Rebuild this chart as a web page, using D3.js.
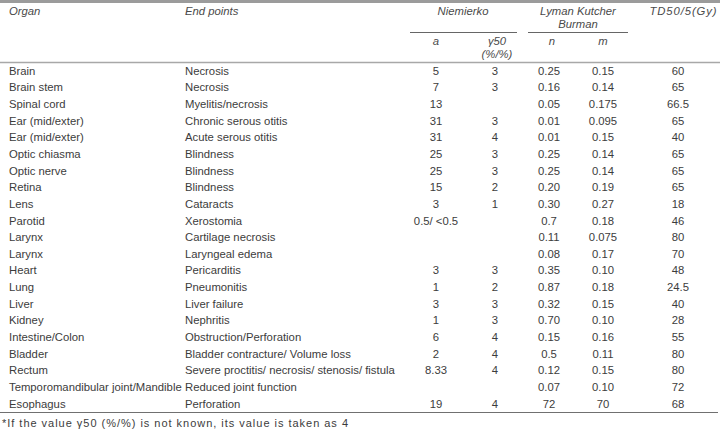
<!DOCTYPE html>
<html><head><meta charset="utf-8">
<script src="https://cdn.jsdelivr.net/npm/d3@7"></script>
<style>
html,body{margin:0;padding:0;background:#fff;}
svg{display:block;font-family:"Liberation Sans",Arial,sans-serif;}
</style></head>
<body>
<svg id="c" width="720" height="430"></svg>
<script>
const organs = ["Brain","Brain stem","Spinal cord","Ear (mid/exter)","Ear (mid/exter)","Optic chiasma","Optic nerve","Retina","Lens","Parotid","Larynx","Larynx","Heart","Lung","Liver","Kidney","Intestine/Colon","Bladder","Rectum","Temporomandibular joint/Mandible","Esophagus"];
const endPoints = ["Necrosis","Necrosis","Myelitis/necrosis","Chronic serous otitis","Acute serous otitis","Blindness","Blindness","Blindness","Cataracts","Xerostomia","Cartilage necrosis","Laryngeal edema","Pericarditis","Pneumonitis","Liver failure","Nephritis","Obstruction/Perforation","Bladder contracture/ Volume loss","Severe proctitis/ necrosis/ stenosis/ fistula","Reduced joint function","Perforation"];
const aValues = ["5","7","13","31","31","25","25","15","3","0.5/ <0.5","","","3","1","3","1","6","2","8.33","","19"];
const gamma50 = ["3","3","","3","4","3","3","2","1","","","","3","2","3","3","4","4","4","","4"];
const nValues = ["0.25","0.16","0.05","0.01","0.01","0.25","0.25","0.20","0.30","0.7","0.11","0.08","0.35","0.87","0.32","0.70","0.15","0.5","0.12","0.07","72"];
const mValues = ["0.15","0.14","0.175","0.095","0.15","0.14","0.14","0.19","0.27","0.18","0.075","0.17","0.10","0.18","0.15","0.10","0.16","0.11","0.15","0.10","70"];
const td50 = ["60","65","66.5","65","40","65","65","65","18","46","80","70","48","24.5","40","28","55","80","80","72","68"];
const footnote = "*If the value \u03b350 (%/%) is not known, its value is taken as 4";

const svg = d3.select("#c");
const W = 720;
const textCol = "#3c3c3c";

const y = d3.scaleBand().domain(d3.range(organs.length)).range([62.5, 412]);
const colKeys = ["organ","end","a","g","n","m","td"];
const x = d3.scaleOrdinal().domain(colKeys).range([9, 185, 436, 495, 549, 603, 678]);

const columns = [
  {key:"organ", data:organs, anchor:"start"},
  {key:"end", data:endPoints, anchor:"start"},
  {key:"a", data:aValues, anchor:"middle"},
  {key:"g", data:gamma50, anchor:"middle"},
  {key:"n", data:nValues, anchor:"middle"},
  {key:"m", data:mValues, anchor:"middle"},
  {key:"td", data:td50, anchor:"middle"}
];

// top bar
svg.append("rect").attr("x",0).attr("y",0).attr("width",W).attr("height",3).attr("fill","#9b9b9b");
// header bottom line
svg.append("line").attr("x1",0).attr("x2",W).attr("y1",62.5).attr("y2",62.5).attr("stroke","#a8a8a8").attr("stroke-width",1.5);
// bottom line
svg.append("line").attr("x1",0).attr("x2",718).attr("y1",412.5).attr("y2",412.5).attr("stroke","#707070").attr("stroke-width",1.2);
// group underlines
svg.append("line").attr("x1",410).attr("x2",517).attr("y1",32.5).attr("y2",32.5).attr("stroke","#666").attr("stroke-width",1);
svg.append("line").attr("x1",528).attr("x2",628).attr("y1",32.5).attr("y2",32.5).attr("stroke","#666").attr("stroke-width",1);

// headers
const headers = [
  {t:"Organ", x:9, y:15, a:"start"},
  {t:"End points", x:185, y:15, a:"start"},
  {t:"Niemierko", x:463, y:15, a:"middle"},
  {t:"Lyman Kutcher", x:578, y:15, a:"middle"},
  {t:"Burman", x:578, y:28, a:"middle"},
  {t:"TD50/5(Gy)", x:683, y:15, a:"middle", len:67},
  {t:"a", x:436, y:45, a:"middle"},
  {t:"\u03b350", x:497, y:45, a:"middle"},
  {t:"(%/%)", x:497, y:58, a:"middle"},
  {t:"n", x:552, y:45, a:"middle"},
  {t:"m", x:603, y:45, a:"middle"}
];
svg.append("g").selectAll("text").data(headers).join("text")
  .attr("x",d=>d.x).attr("y",d=>d.y).attr("text-anchor",d=>d.a)
  .attr("font-size",11.3).attr("font-style","italic").attr("fill","#4a4a4a")
  .each(function(d){ if(d.len){ d3.select(this).attr("textLength",d.len).attr("lengthAdjust","spacing"); } })
  .text(d=>d.t);

// body
columns.forEach(c=>{
  svg.append("g").selectAll("text").data(c.data).join("text")
    .attr("x", x(c.key))
    .attr("y", (d,i)=>y(i)+y.bandwidth()/2)
    .attr("dy","0.35em")
    .attr("text-anchor", c.anchor)
    .attr("font-size", 11.3)
    .attr("fill", textCol)
    .text(d=>d);
});

// footnote
svg.append("text").attr("x",2).attr("y",427).attr("font-size",11)
  .attr("textLength",346).attr("lengthAdjust","spacing")
  .attr("fill",textCol).text(footnote);
</script>
</body></html>
